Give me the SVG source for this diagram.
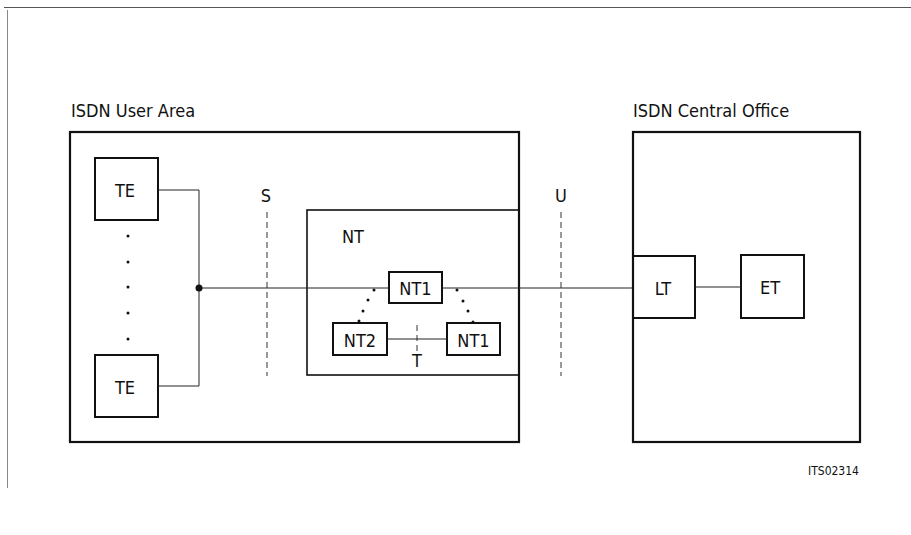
<svg xmlns="http://www.w3.org/2000/svg" width="911" height="535" viewBox="0 0 911 535">
<style>
text{font-family:"DejaVu Sans Condensed","DejaVu Sans",sans-serif;font-size:18px;fill:#111;font-stretch:condensed}
.box{fill:none;stroke:#111;stroke-width:2}
.area{fill:none;stroke:#111;stroke-width:2.2}
.line{fill:none;stroke:#222;stroke-width:1}
.dash{fill:none;stroke:#333;stroke-width:1;stroke-dasharray:6,4}
.dot{fill:#111}
.mid{text-anchor:middle}
</style>
<rect width="911" height="535" fill="#fff"/>
<g id="scan-border">
<path d="M4 7.5H911" stroke="#555" stroke-width="1" fill="none"/>
<path d="M7.5 10V488" stroke="#888" stroke-width="1" fill="none"/>
</g>
<g id="user-area">
<rect class="area" x="70" y="132" width="449" height="310"/>
<text x="71" y="117">ISDN User Area</text>
</g>
<g id="central-office">
<rect class="area" x="633" y="132" width="227" height="310"/>
<text x="633" y="117">ISDN Central Office</text>
</g>
<g id="te1"><rect class="box" x="95" y="158" width="63" height="62"/><text class="mid" x="125" y="197">TE</text></g>
<g id="te2"><rect class="box" x="95" y="355" width="63" height="62"/><text class="mid" x="125" y="394">TE</text></g>
<g id="te-dots">
<circle class="dot" cx="128" cy="236" r="1.5"/><circle class="dot" cx="128" cy="262" r="1.5"/><circle class="dot" cx="128" cy="287" r="1.5"/><circle class="dot" cx="128" cy="313" r="1.5"/><circle class="dot" cx="128" cy="339" r="1.5"/>
</g>
<g id="nt">
<rect fill="none" stroke="#111" stroke-width="1.6" x="307" y="210" width="212" height="165"/>
<text class="mid" x="353" y="243">NT</text>
</g>
<g id="nt1-top"><rect class="box" x="389" y="272" width="53" height="31" fill="#fff"/><text class="mid" x="415.5" y="295">NT1</text></g>
<g id="nt2"><rect class="box" x="333" y="323" width="54" height="32"/><text class="mid" x="360" y="347">NT2</text></g>
<g id="nt1-right"><rect class="box" x="447" y="323" width="53" height="32"/><text class="mid" x="473.5" y="347">NT1</text></g>
<g id="lt"><rect class="box" x="633" y="256" width="62" height="62"/><text class="mid" x="663" y="295">LT</text></g>
<g id="et"><rect class="box" x="741" y="255" width="63" height="63"/><text class="mid" x="770" y="294">ET</text></g>
<g id="ref-points">
<path class="dash" d="M267 212V376"/>
<text class="mid" x="266" y="202">S</text>
<path class="dash" d="M561 212V376"/>
<text class="mid" x="561" y="202">U</text>
<path class="dash" d="M417 325V353" stroke-dasharray="5,3"/>
<text class="mid" x="417" y="367">T</text>
</g>
<g id="connectors">
<path class="line" d="M158 190H199V386H158"/>
<path class="line" d="M199 288H389"/>
<path class="line" d="M442 288H633"/>
<path class="line" d="M387 339H447"/>
<path class="line" d="M695 287H741"/>
<circle class="dot" cx="199" cy="288" r="3.5"/>
<circle class="dot" cx="374" cy="290" r="1.5"/><circle class="dot" cx="368" cy="300" r="1.5"/><circle class="dot" cx="363" cy="311" r="1.5"/><circle class="dot" cx="359" cy="321" r="1.5"/>
<circle class="dot" cx="457" cy="290" r="1.5"/><circle class="dot" cx="463" cy="301" r="1.5"/><circle class="dot" cx="468" cy="311" r="1.5"/><circle class="dot" cx="473" cy="322" r="1.5"/>
</g>
<text x="808" y="475" style="font-size:12px">ITS02314</text>
</svg>
